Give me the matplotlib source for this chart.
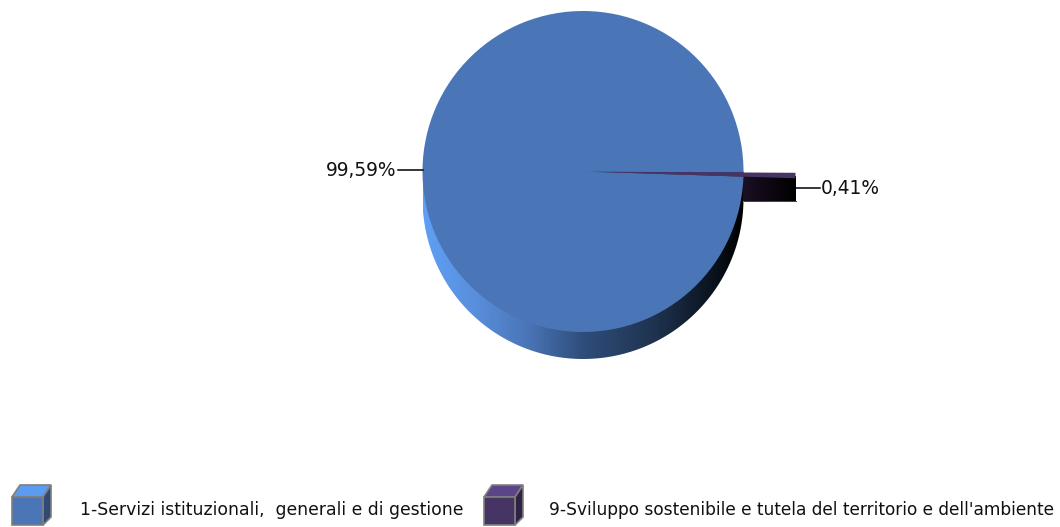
#!/usr/bin/env python3

import numpy as np
import matplotlib
matplotlib.use("Agg")
import matplotlib.pyplot as plt
from matplotlib.colors import LinearSegmentedColormap
from matplotlib.patches import Polygon, Rectangle, Wedge

# chart data
categories = ["1-Servizi istituzionali,  generali e di gestione",
              "9-Sviluppo sostenibile e tutela del territorio e dell'ambiente"]
values = [99.59, 0.41]
pct_labels = ["99,59%", "0,41%"]

blue = ["#4a76b8", "#5b9bf0", "#2f4a75"]      # front, top, side
purple = ["#463564", "#5c4488", "#2e2342"]

W, H = 1060, 527
cx, cy = 583, H - 171.5
radius = 160.5
depth = 27
start = -0.35     # blue slice starts here, purple closes the circle
pull = 52         # how far the thin slice sticks out

fig = plt.figure(figsize=(W / 100, H / 100), dpi=100)
ax = fig.add_axes([0, 0, 1, 1])

# side of the disc, gradient clipped to the extruded circle
t = np.linspace(np.pi, 2 * np.pi, 200)
xs = np.concatenate([[cx - radius], cx + radius * np.cos(t), [cx + radius]])
ys = np.concatenate([[cy], cy - depth + radius * np.sin(t), [cy]])
rim = Polygon(np.column_stack([xs, ys]), closed=True, transform=ax.transData,
              fc="none", ec="none")
ax.add_patch(rim)
rim_cmap = LinearSegmentedColormap.from_list("rim", [
    (0.0, "#5f9ff5"), (0.15, "#5a90de"), (0.32, "#4a76b8"), (0.5, "#2f4d7a"),
    (0.72, "#1f3350"), (0.9, "#0b1420"), (1.0, "#000000")])
img = ax.imshow(np.linspace(0, 1, 322).reshape(1, -1), cmap=rim_cmap, aspect="auto",
                extent=[cx - radius, cx + radius, cy - radius - depth, cy], zorder=1)
img.set_clip_path(rim)

# pulled out block of the thin slice
block_cmap = LinearSegmentedColormap.from_list("block", ["#1c0f24", "#000000"])
ax.imshow(np.linspace(0, 1, 52).reshape(1, -1), cmap=block_cmap, aspect="auto",
          extent=[cx + radius - 1, cx + radius + pull, H - 201, H - 176], zorder=1.5)
ax.plot([cx + radius, cx + radius + pull], [H - 201, H - 201], color=purple[0], lw=0.7, zorder=1.6)
ax.add_patch(Wedge((cx, cy), radius + pull, start - values[1] * 3.6, start,
                   fc=purple[0], ec="none", zorder=2))

# top of the pie
wedges, _ = ax.pie(values, colors=[blue[0], purple[0]], startangle=start,
                   center=(cx, cy), radius=radius, frame=True,
                   wedgeprops=dict(linewidth=0, zorder=3))

# leader lines and labels
ax.plot([cx - radius - 25, cx - radius], [H - 170, H - 170], color="black", lw=1.1, zorder=4)
ax.text(cx - radius - 26, H - 170, pct_labels[0], ha="right", va="center",
        fontsize=13.4, color="#111111")
ax.plot([cx + radius + pull, cx + radius + pull + 24], [H - 188, H - 188],
        color="black", lw=1.1, zorder=4)
ax.text(cx + radius + pull + 25, H - 188, pct_labels[1], ha="left", va="center",
        fontsize=13.4, color="#111111")


def cube(x, cols):
    # legend swatch, 3D box
    y0, w, h, d = H - 525, 31, 28, 8
    ec = "#7f7f7f"
    ax.add_patch(Polygon([(x, y0 + h), (x + d, y0 + h + d + 4), (x + w + d, y0 + h + d + 4), (x + w, y0 + h)],
                         fc=cols[1], ec=ec, lw=1.2))
    ax.add_patch(Polygon([(x + w, y0), (x + w + d, y0 + d), (x + w + d, y0 + h + d + 4), (x + w, y0 + h)],
                         fc=cols[2], ec=ec, lw=1.2))
    ax.add_patch(Rectangle((x, y0), w, h, fc=cols[0], ec=ec, lw=1.2))


cube(12, blue)
ax.text(80, H - 510, categories[0], ha="left", va="center", fontsize=12.4, color="#111111")
cube(484, purple)
ax.text(549, H - 510, categories[1], ha="left", va="center", fontsize=12.25, color="#111111")

ax.set_xlim(0, W)
ax.set_ylim(0, H)
ax.set_aspect("auto")
ax.axis("off")

fig.savefig("out.png", dpi=100, facecolor="white")
